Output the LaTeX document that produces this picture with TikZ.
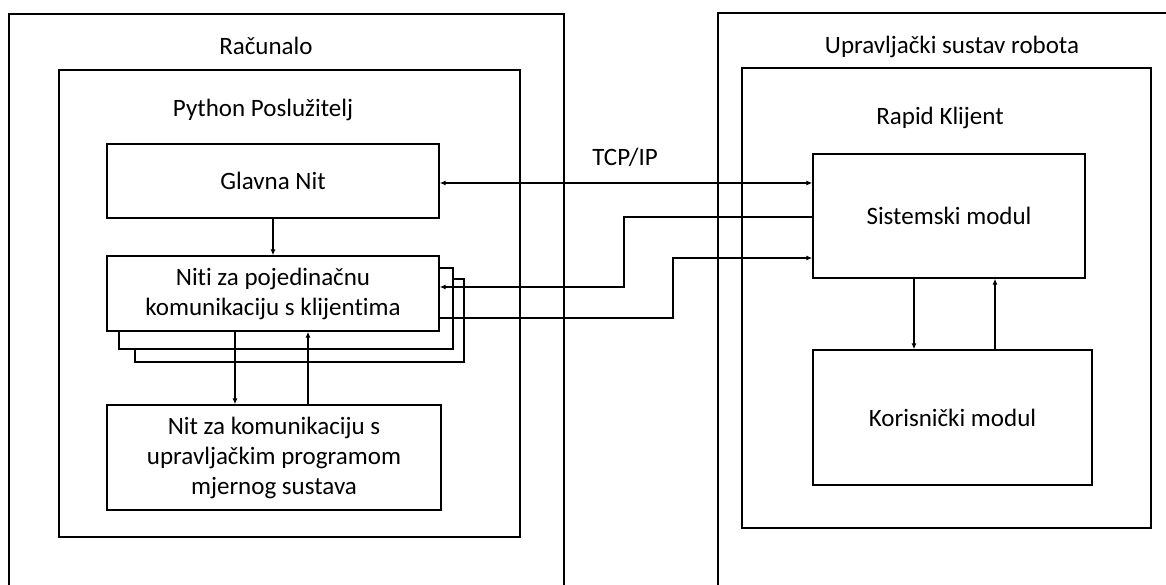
\documentclass[tikz,border=0pt]{standalone}
\usepackage{fontspec}
\setmainfont{Carlito}[Ligatures=NoCommon]
\usetikzlibrary{arrows.meta}
\begin{document}
\begin{tikzpicture}[x=1pt,y=-1pt,
  box/.style={draw=black,line width=1.3pt,fill=white,minimum width=#1,inner sep=0pt,align=center,font=\fontsize{25}{30}\selectfont},
  lbl/.style={font=\fontsize{25}{30}\selectfont,inner sep=0pt},
  conn/.style={line width=1.2pt,-{Latex[length=6pt,width=5pt]}},
  conn2/.style={line width=1.2pt,{Latex[length=6pt,width=5pt]}-{Latex[length=6pt,width=5pt]}},
  plain/.style={line width=1.2pt}]
\useasboundingbox (0,0) rectangle (1166,585);
\clip (0,0) rectangle (1166,585);
\fill[white] (0,0) rectangle (1166,585);
% outer containers
\node[box=555pt,minimum height=596pt] (outerL) at (286.5,312) {};
\node[box=472pt,minimum height=598pt] (outerR) at (954,312) {};
\node[lbl] (lRac) at (266,46) {Računalo};
\node[lbl] (lUpr) at (952,47) {Upravljački sustav robota};
% inner containers
\node[box=461pt,minimum height=467pt] (python) at (289.5,303.5) {};
\node[box=409pt,minimum height=460pt] (rapid) at (946.5,298) {};
\node[lbl] (lPy) at (263,110) {Python Poslužitelj};
\node[lbl] (lRap) at (940,118) {Rapid Klijent};
\node[lbl] (lTcp) at (625,157) {TCP/IP};
% left blocks
\node[box=332pt,minimum height=74pt] (glavna) at (273,181) {Glavna Nit};
\node[box=329pt,minimum height=83pt] (shadowB) at (299.5,320.5) {};
\node[box=334pt,minimum height=81pt] (shadowA) at (286,308.5) {};
\node[box=332pt,minimum height=75pt] (niti) at (273,293.5) {Niti za pojedinačnu\\komunikaciju s klijentima};
\node[box=334pt,minimum height=105pt] (nitkom) at (274,457.5) {Nit za komunikaciju s\\upravljačkim programom\\mjernog sustava};
% right blocks
\node[box=272pt,minimum height=124pt] (sist) at (949,216) {Sistemski modul};
\node[box=279pt,minimum height=135pt] (kor) at (952.5,417.5) {Korisnički modul};
% helper coordinates
\coordinate (xa) at (235,0);
\coordinate (xb) at (308,0);
\coordinate (xc) at (624,0);
\coordinate (xd) at (673,0);
\coordinate (xe) at (914,0);
\coordinate (xf) at (995,0);
\coordinate (ya) at (0,183);
\coordinate (yb) at (0,217);
\coordinate (yc) at (0,287);
\coordinate (yd) at (0,318);
\coordinate (ye) at (0,258);
% connectors
\draw[conn] (glavna.south) -- (niti.north);
\draw[conn] (niti.south -| xa) -- (nitkom.north -| xa);
\draw[conn] (nitkom.north -| xb) -- (niti.south -| xb);
\draw[conn2] (glavna.east |- ya) -- (sist.west |- ya);
\draw[conn] (sist.west |- yb) -- (xc |- yb) -- (xc |- yc) -- (niti.east |- yc);
\draw[conn] (niti.east |- yd) -- (xd |- yd) -- (xd |- ye) -- (sist.west |- ye);
\draw[conn] (sist.south -| xe) -- (kor.north -| xe);
\draw[conn] (kor.north -| xf) -- (sist.south -| xf);
\end{tikzpicture}
\end{document}
